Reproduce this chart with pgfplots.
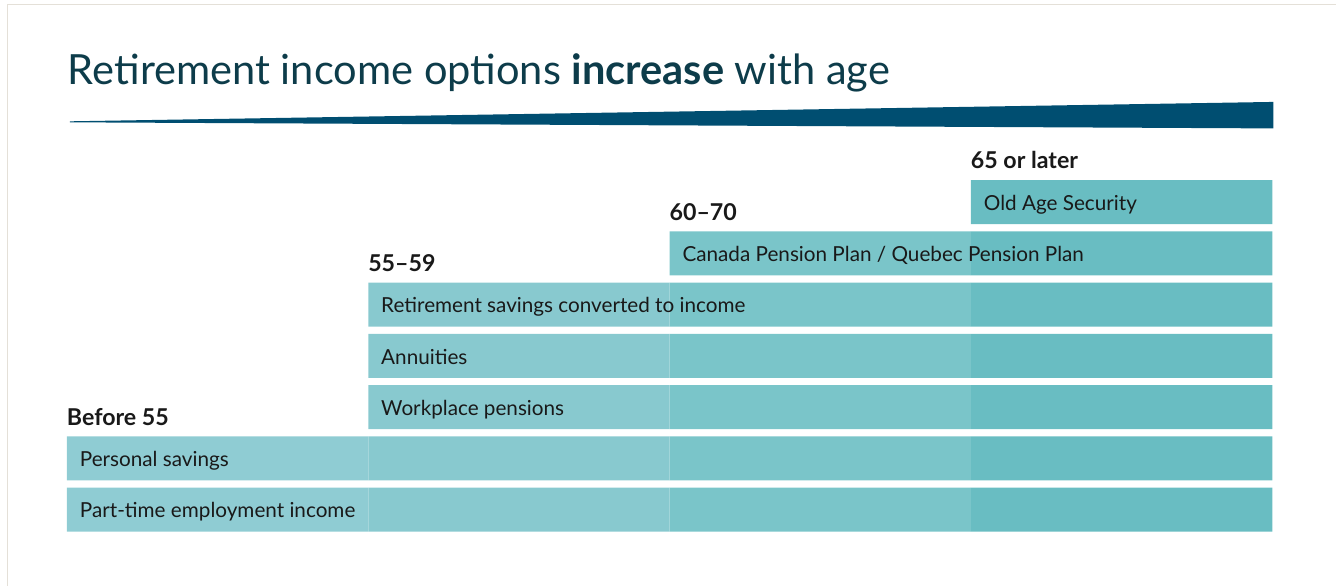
\documentclass[border=0pt]{standalone}
\usepackage{fontspec}
\setmainfont{Lato}
\usepackage{pgfplots}
\pgfplotsset{compat=1.18}
\definecolor{colA}{HTML}{8FCCD3}
\definecolor{colB}{HTML}{88C9CF}
\definecolor{colC}{HTML}{7AC5C9}
\definecolor{colD}{HTML}{69BDC2}
\definecolor{titlecol}{HTML}{0D3C4A}
\definecolor{wedge}{HTML}{004E71}
\definecolor{frame}{HTML}{E4E0D8}
\newcommand{\lab}{\fontsize{20.7bp}{24bp}\selectfont}
\newcommand{\hdr}{\fontsize{23.2bp}{27bp}\selectfont\bfseries}
\tikzset{lbl/.style={anchor=base west, inner sep=0pt, outer sep=0pt, text=black!90}}
\begin{document}
\begin{tikzpicture}[x=1bp,y=1bp]
\path (0,0) rectangle (1337,586);
% frame
\draw[frame, line width=1.6bp] (7.5,0) -- (7.5,581.5) -- (1337,581.5);
% title and wedge
\node[lbl, text=titlecol] at (68,501)
  {\fontsize{41.6bp}{47bp}\selectfont Retirement income options \textbf{increase} with age};
\fill[wedge] (70,464.6) -- (1274,484) -- (1274,457.5) -- (70,463.6) -- cycle;

\begin{axis}[
    at={(67bp,50.35bp)}, anchor=south west,
    scale only axis, width=1206bp, height=359.1bp,
    xmin=0, xmax=4, ymin=0.5, ymax=7.5,
    hide axis, clip=false,
    xbar stacked, bar width=44bp,
]
% invisible offset: the column where each option first appears
\addplot[draw=none, fill=none] coordinates {(0,1) (0,2) (1,3) (1,4) (1,5) (2,6) (3,7)};
% one series per age column; 1 = option available in that column
\addplot[fill=colA, draw=none] coordinates {(1,1) (1,2) (0,3) (0,4) (0,5) (0,6) (0,7)};
\addplot[fill=colB, draw=none] coordinates {(1,1) (1,2) (1,3) (1,4) (1,5) (0,6) (0,7)};
\addplot[fill=colC, draw=none] coordinates {(1,1) (1,2) (1,3) (1,4) (1,5) (1,6) (0,7)};
\addplot[fill=colD, draw=none] coordinates {(1,1) (1,2) (1,3) (1,4) (1,5) (1,6) (1,7)};

% anchor points for the text, drawn after the axis so it sits on top
\coordinate (h1) at (axis cs:0,2.65);
\coordinate (h2) at (axis cs:1,5.65);
\coordinate (h3) at (axis cs:2,6.65);
\coordinate (h4) at (axis cs:3,7.65);
\coordinate (r1) at (axis cs:0.043,0.84);
\coordinate (r2) at (axis cs:0.043,1.84);
\coordinate (r3) at (axis cs:1.043,2.84);
\coordinate (r4) at (axis cs:1.043,3.84);
\coordinate (r5) at (axis cs:1.043,4.84);
\coordinate (r6) at (axis cs:2.043,5.84);
\coordinate (r7) at (axis cs:3.043,6.84);
\end{axis}

% column headers
\node[lbl] at (h1) {\hdr Before 55};
\node[lbl] at (h2) {\hdr 55–59};
\node[lbl] at (h3) {\hdr 60–70};
\node[lbl] at (h4) {\hdr 65 or later};

% row labels
\node[lbl] at (r1) {\lab Part-time employment income};
\node[lbl] at (r2) {\lab Personal savings};
\node[lbl] at (r3) {\lab Workplace pensions};
\node[lbl] at (r4) {\lab Annuities};
\node[lbl] at (r5) {\lab Retirement savings converted to income};
\node[lbl] at (r6) {\lab Canada Pension Plan / Quebec Pension Plan};
\node[lbl] at (r7) {\lab Old Age Security};
\end{tikzpicture}
\end{document}
